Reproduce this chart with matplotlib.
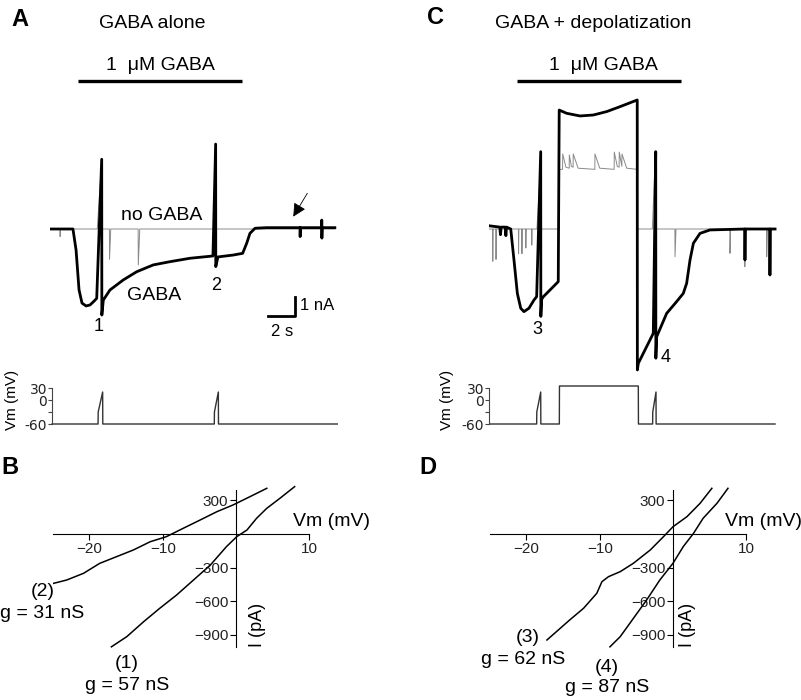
# GABA-evoked currents with and without depolarization, plus I-V curves
import matplotlib.pyplot as plt

plt.rcParams['font.family'] = ['Liberation Sans', 'DejaVu Sans']

# panel A, current traces (time in s, current in nA)
a_gaba_t = [0, 1.70, 1.93, 2.15, 2.37, 2.67, 2.96, 3.26, 3.46, 3.83, 3.84, 3.95,
            4.44, 5.43, 6.42, 7.65, 8.89, 10.37, 12.07, 12.27, 12.28, 12.44,
            13.58, 14.27, 14.57, 14.81, 15.19, 16.05, 18.52, 18.53, 18.55,
            20.12, 20.13, 20.14, 20.16, 21.10]
a_gaba_i = [0, 0, -1.1, -3.2, -3.9, -4.05, -4.0, -3.8, -3.65, 3.67, -4.53, -3.74,
            -3.21, -2.68, -2.25, -1.89, -1.72, -1.54, -1.42, 4.47, -1.98, -1.47,
            -1.37, -1.28, -0.75, -0.23, 0.04, 0.07, 0.07, -0.4, 0.07,
            0.07, 0.47, -0.48, 0.07, 0.07]
a_ctrl_t = [0, 0.74, 0.75, 0.77, 3.50, 3.80, 3.82, 3.88, 4.40, 4.41, 4.50,
            6.53, 6.54, 6.65, 12.10, 12.25, 12.27, 12.32, 21.10]
a_ctrl_i = [0, 0, -0.4, 0, 0, 3.2, -2.6, 0, 0, -1.6, 0,
            0, -1.9, 0, 0, 4.0, -1.8, 0, 0]
a_vm_t = [0.15, 3.56, 3.57, 3.90, 3.91, 12.17, 12.18, 12.47, 12.48, 21.28]
a_vm_v = [-60, -60, -30, 20, -60, -60, -30, 20, -60, -60]

# panel C, current traces
c_gaba_t = [0, 0.80, 0.85, 0.90, 1.20, 1.25, 1.30, 1.61, 1.85, 2.10, 2.35, 2.59,
            2.96, 3.33, 3.53, 3.83, 3.84, 3.90, 4.03, 4.52, 5.13, 5.20, 5.75,
            6.74, 7.73, 8.72, 9.71, 10.98, 10.99, 11.06, 12.17, 12.35, 12.36,
            12.42, 13.16, 13.90, 14.39, 14.64, 14.89, 15.14, 15.63, 16.37,
            18.95, 18.96, 18.98, 20.80, 20.81, 20.83, 21.19]
c_gaba_i = [0.17, 0.1, -0.3, 0.1, 0.1, -0.35, 0.1, 0, -1.63, -3.39, -4.17, -4.35,
            -4.17, -3.74, -3.56, 4.07, -4.6, -3.7, -3.56, -3.21, -2.77, 6.26, 6.09,
            5.95, 6.0, 6.18, 6.44, 6.79, -7.42, -7.07, -5.49, 4.07, -6.8,
            -5.67, -4.44, -3.82, -3.39, -2.86, -1.63, -0.75, -0.23, -0.05,
            0, -1.63, 0, 0, -2.42, 0, 0]
c_ctrl_t = [0, 0.27, 0.28, 0.30, 0.51, 0.52, 0.54, 2.18, 2.19, 2.21, 2.43, 2.44,
            2.46, 2.72, 2.73, 2.75, 3.16, 3.17, 3.19, 3.55, 3.80, 3.82, 3.88,
            5.20, 5.22, 5.45, 5.46, 5.70, 5.94, 5.95, 6.10, 6.23, 6.24, 6.60,
            7.84, 7.85, 8.20, 9.27, 9.28, 9.50, 9.64, 9.65, 9.84, 9.85, 10.20,
            10.98, 11.00, 12.10, 12.30, 12.32, 12.40, 13.77, 13.78, 13.85,
            17.84, 17.85, 17.90, 18.94, 18.95, 19.00, 20.56, 20.57, 20.62, 21.19]
c_ctrl_i = [0, 0, -1.7, 0, 0, -1.6, 0, 0, -1.3, 0, 0, -1.3,
            0, 0, -1.0, 0, 0, -0.85, 0, 0, 3.0, -2.5, 0,
            0, 3.14, 3.14, 3.95, 3.25, 3.2, 3.9, 3.3, 3.25, 3.95, 3.2,
            3.14, 3.95, 3.2, 3.14, 4.05, 3.3, 3.25, 4.05, 3.3, 3.95, 3.2,
            3.14, 0, 0, 3.5, -1.5, 0, 0, -1.46, 0,
            0, -1.28, 0, 0, -1.98, 0, 0, -1.46, 0, 0]
c_vm_t = [0, 3.53, 3.54, 3.83, 3.84, 5.21, 5.22, 11.06, 11.07, 12.12, 12.13,
          12.37, 12.38, 21.19]
c_vm_v = [-60, -60, -30, 20, -60, -60, 35, 35, -60, -60, -30, 20, -60, -60]

gaba_on = [2.07, 14.22]  # s, 1 uM GABA application
vm_ticks = [30, 0, -30, -60]
vm_ticklabels = ['30', '0', '', '-60']

# I-V curves (mV, pA)
b1_v = [-17.0, -14.9, -12.6, -10.4, -8.1, -5.8, -3.5, -1.3, 0.1, 1.5, 2.8, 4.2, 6.0, 8.0]
b1_i = [-1010, -919, -785, -665, -546, -412, -278, -113, -24, 36, 140, 230, 320, 424]
b2_v = [-24.9, -23.1, -20.8, -18.6, -16.3, -14.0, -11.7, -9.5, -7.2, -4.9, -2.6,
        -0.4, 1.9, 4.2]
b2_i = [-442, -412, -352, -263, -203, -143, -69, -24, 51, 125, 200, 260, 334, 409]
d3_v = [-17.2, -15.9, -14.1, -12.2, -10.4, -10.0, -9.7, -8.8, -7.2, -5.4, -3.1,
        -1.3, 0.0, 1.9, 3.7, 5.3]
d3_i = [-949, -874, -770, -665, -531, -472, -427, -382, -337, -262, -143,
        -24, 65, 155, 275, 409]
d4_v = [-8.6, -7.2, -5.4, -3.6, -1.8, 0.0, 1.4, 2.8, 4.1, 6.0, 7.5]
d4_i = [-1010, -919, -755, -591, -412, -262, -113, 6, 140, 275, 409]
iv_xticks = [-20, -10, 10]
iv_yticks = [300, -300, -600, -900]

W, H = 801, 700
fig = plt.figure(figsize=(W / 100, H / 100), dpi=100)


def box(x0, y0, x1, y1):
    ax = fig.add_axes([x0 / W, 1 - y1 / H, (x1 - x0) / W, (y1 - y0) / H])
    ax.patch.set_visible(False)
    return ax


def label(x, y, s, size=14, ha='center', va='center', **kw):
    fig.text(x / W, 1 - y / H, s, fontsize=size, ha=ha, va=va, **kw)


def current_axes(x0):
    ax = box(x0, 70, x0 + 13.5 * 21.3, 385)
    ax.set_xlim(0, 21.3)
    ax.set_ylim((229 - 385) / 19, (229 - 70) / 19)
    ax.axis('off')
    ax.plot(gaba_on, [7.79, 7.79], color='black', lw=2.4, solid_capstyle='butt')
    return ax


def vm_axes(x0, t, v, spine_t):
    ax = box(x0, 360, x0 + 13.5 * 21.3, 440)
    ax.set_xlim(0, 21.3)
    ax.set_ylim(-100, 100)
    for s in ['top', 'right', 'bottom']:
        ax.spines[s].set_visible(False)
    ax.spines['left'].set_position(('data', spine_t))
    ax.spines['left'].set_bounds(-60, 30)
    ax.spines['left'].set_color('#444444')
    ax.set_xticks([])
    ax.set_yticks(vm_ticks)
    ax.set_yticklabels(vm_ticklabels)
    ax.tick_params(axis='y', length=3, width=0.8, pad=0.5, labelsize=10,
                   color='#444444', labelcolor='#222222')
    for lab in ax.get_yticklabels():
        lab.set_family(['DejaVu Sans'])
    ax.plot(t, v, color='#333333', lw=1.0)
    return ax


def iv_axes(x_zero):
    ax = box(x_zero - 25 * 7.33, 480, x_zero + 10.5 * 7.33, 660)
    ax.set_xlim(-25, 10.5)
    ax.set_ylim((534 - 660) / 0.1117, (534 - 480) / 0.1117)
    ax.spines['top'].set_visible(False)
    ax.spines['right'].set_visible(False)
    ax.spines['left'].set_position(('data', 0))
    ax.spines['bottom'].set_position(('data', 0))
    ax.spines['left'].set_bounds(-1012, 394)
    ax.spines['bottom'].set_bounds(-25, 10)
    ax.set_xticks(iv_xticks)
    ax.set_yticks(iv_yticks)
    ax.tick_params(direction='out', length=4, width=0.8, labelsize=11,
                   labelcolor='#222222')
    ax.tick_params(axis='x', pad=2)
    ax.tick_params(axis='y', pad=1.5)
    return ax


# ---- A
ax = current_axes(50)
ax.plot(a_ctrl_t, a_ctrl_i, color='#8a8a8a', lw=0.7)
ax.plot(a_gaba_t, a_gaba_i, color='black', lw=2.0)
ax.annotate('', xy=(18.02, 0.65), xytext=(19.06, 1.88),
            arrowprops=dict(arrowstyle='-|>', lw=0.6, color='black',
                            mutation_scale=20, shrinkA=0, shrinkB=0))
ax.plot([16.15, 18.15, 18.15], [-4.59, -4.59, -3.59], color='black', lw=2.0)
vm_axes(50, a_vm_t, a_vm_v, 0.15)

label(20, 20, 'A', size=17, weight='bold')
label(152, 23, 'GABA alone')
label(160, 65, '1  μM GABA')
label(162, 215, 'no GABA')
label(154, 296, 'GABA')
label(99, 327, '1', size=13)
label(216, 285, '2', size=13)
label(300, 306, '1 nA', size=12, ha='left')
label(282, 332, '2 s', size=12)
label(12, 400, 'Vm (mV)', size=11, rotation=90)

# ---- C
ax = current_axes(489)
ax.plot(c_ctrl_t, c_ctrl_i, color='#8a8a8a', lw=0.7)
ax.plot(c_gaba_t, c_gaba_i, color='black', lw=2.0)
vm_axes(489, c_vm_t, c_vm_v, 0)

label(435, 17, 'C', size=17, weight='bold')
label(593, 24, 'GABA + depolatization')
label(603, 65, '1  μM GABA')
label(537, 330, '3', size=13)
label(666, 358, '4', size=13)
label(447, 400, 'Vm (mV)', size=11, rotation=90)

# ---- B
ax = iv_axes(236)
ax.plot(b2_v, b2_i, color='black', lw=1.1)
ax.plot(b1_v, b1_i, color='black', lw=1.1)
label(10, 468, 'B', size=17, weight='bold')
label(293, 522, 'Vm (mV)', ha='left')
label(257, 625, 'I (pA)', size=13, rotation=90)
label(43, 592, '(2)')
label(42, 613, 'g = 31 nS')
label(127, 663, '(1)')
label(127, 685, 'g = 57 nS')

# ---- D
ax = iv_axes(673)
ax.plot(d3_v, d3_i, color='black', lw=1.1)
ax.plot(d4_v, d4_i, color='black', lw=1.1)
label(428, 468, 'D', size=17, weight='bold')
label(725, 522, 'Vm (mV)', ha='left')
label(687, 625, 'I (pA)', size=13, rotation=90)
label(528, 638, '(3)')
label(523, 660, 'g = 62 nS')
label(607, 667, '(4)')
label(607, 688, 'g = 87 nS')

fig.savefig('out.png', dpi=100)
